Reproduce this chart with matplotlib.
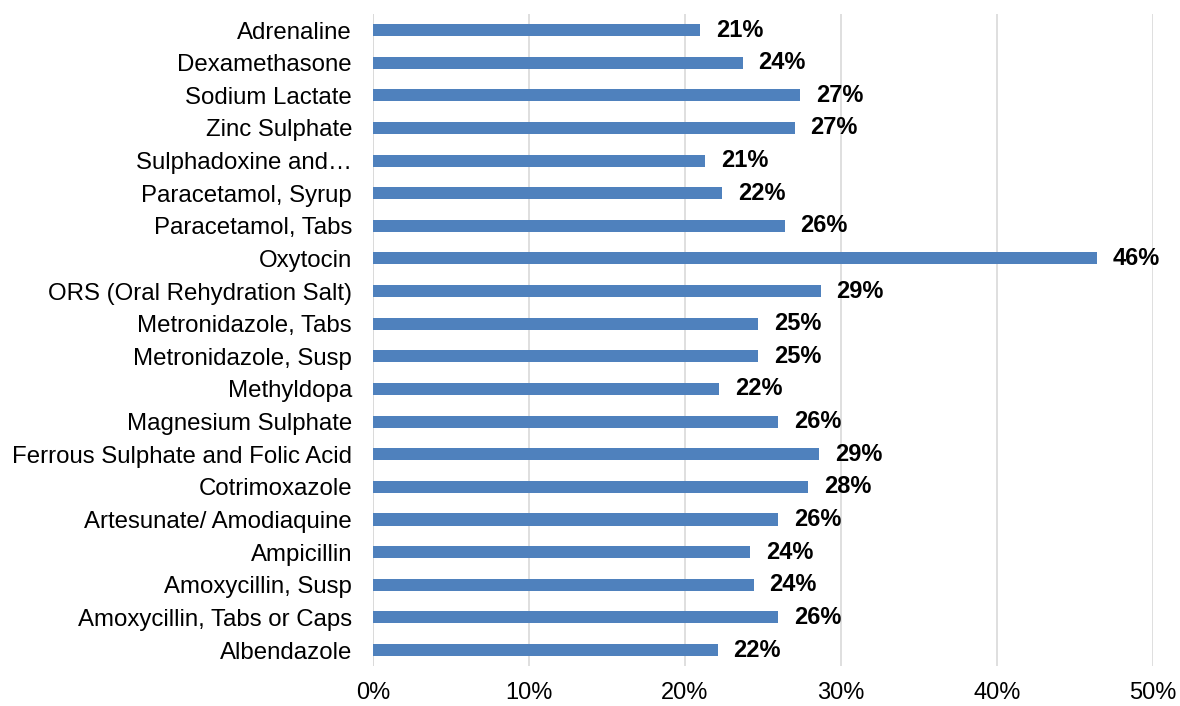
import numpy as np
import matplotlib.pyplot as plt

plt.rcParams['font.family'] = ['Liberation Sans', 'DejaVu Sans']

# data, listed bottom to top
medicines = ['Albendazole', 'Amoxycillin, Tabs or Caps', 'Amoxycillin, Susp',
             'Ampicillin', 'Artesunate/ Amodiaquine', 'Cotrimoxazole',
             'Ferrous Sulphate and Folic Acid', 'Magnesium Sulphate', 'Methyldopa',
             'Metronidazole, Susp', 'Metronidazole, Tabs', 'ORS (Oral Rehydration Salt)',
             'Oxytocin', 'Paracetamol, Tabs', 'Paracetamol, Syrup',
             'Sulphadoxine and\u2026', 'Zinc Sulphate', 'Sodium Lactate',
             'Dexamethasone', 'Adrenaline']
shares = [22.1, 26.0, 24.4, 24.2, 26.0, 27.9, 28.6, 26.0, 22.2, 24.7,
          24.7, 28.7, 46.4, 26.4, 22.4, 21.3, 27.05, 27.4, 23.7, 21.0]
xticks = [0, 10, 20, 30, 40, 50]

fig = plt.figure(figsize=(11.8, 7.06), dpi=100)
ax = fig.add_axes([0.316, 0.0562, 0.661, 0.9244])

y = np.arange(len(medicines))
ax.barh(y, shares, height=0.37, color='#4F81BD', zorder=3)
for yi, v in zip(y, shares):
    ax.text(v + 1.0, yi, '%d%%' % round(v), va='center', ha='left',
            fontsize=17, fontweight='bold', color='black')

ax.set_ylim(-0.5, len(medicines) - 0.5)
ax.set_xlim(0, 50)
ax.set_yticks(y)
ax.set_yticklabels(medicines, fontsize=17.3)
ax.set_xticks(xticks)
ax.set_xticklabels(['%d%%' % t for t in xticks], fontsize=17)
ax.tick_params(length=0)
ax.tick_params(axis='y', pad=15)
ax.tick_params(axis='x', pad=11)
ax.grid(axis='x', color='#D9D9D9', linewidth=1.2, zorder=0)
for s in ax.spines.values():
    s.set_visible(False)
ax.axvline(0, color='#D9D9D9', linewidth=1.2, zorder=1)

fig.savefig('out.png', dpi=100)
